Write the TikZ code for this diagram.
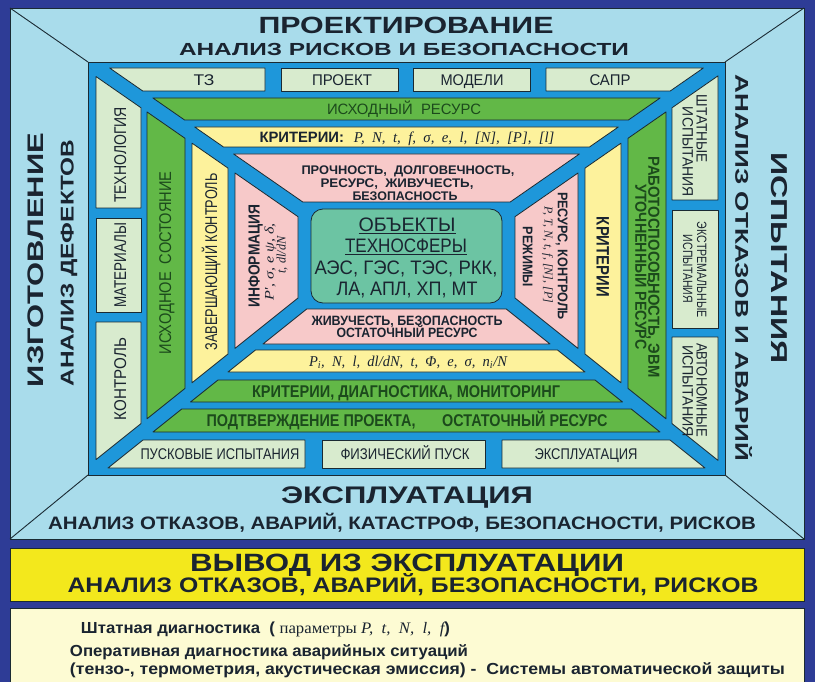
\documentclass[tikz,border=0pt]{standalone}
\usepackage{fontspec}
\setmainfont{Liberation Sans}
\newfontfamily\tms{Liberation Serif}
\usepackage{graphicx}
\usetikzlibrary{calc}

\definecolor{frame}{HTML}{2E3C96}
\definecolor{lblue}{HTML}{A9DCEB}
\definecolor{mblue}{HTML}{1E97DA}
\definecolor{pale}{HTML}{D8EBCE}
\definecolor{grn}{HTML}{62B847}
\definecolor{ylw}{HTML}{FDF29C}
\definecolor{pnk}{HTML}{F7C9C9}
\definecolor{tealbx}{HTML}{6CC4A3}
\definecolor{ybar}{HTML}{F3E81C}
\definecolor{cream}{HTML}{FDFBD3}
\definecolor{ink}{HTML}{1A2430}
\definecolor{dgreen}{HTML}{1C4A1C}
\definecolor{edge}{HTML}{1A2A33}

\newlength\fitlen
\newcommand\fitw[2]{\settowidth\fitlen{#2}\pgfmathsetmacro\fitsx{#1/\fitlen}\scalebox{\fitsx}[1]{#2}}
% name, x, y, rotation, font size, width, style, text
\newcommand\Lbl[8]{\node[lbl,#7,rotate=#4,anchor=base] (#1) at ({#2+0.358*#5*sin(#4)},{#3+0.358*#5*cos(#4)}) {\fontsize{#5}{#5}\selectfont\fitw{#6}{#8}};}

\def\kA{0.69369}\def\kB{0.8}
\newcommand\xTLu[1]{(88+(#1-53)/\kA)}
\newcommand\xTRu[1]{(725-(#1-53)/\kA)}
\newcommand\yTLl[1]{(71+\kA*(#1-88))}
\newcommand\yTRl[1]{(71+\kA*(725-#1))}
\newcommand\yBLu[1]{(466-\kB*(#1-88))}
\newcommand\yBRu[1]{(466-\kB*(725-#1))}
\newcommand\xBLl[1]{(88+(484-#1)/\kB)}
\newcommand\xBRl[1]{(725-(484-#1)/\kB)}
\newcommand\TopPc[3]{\draw[pc,#1] ({\xTLu{#2}},#2) -- ({\xTRu{#2}},#2) -- ({\xTRu{#3}},#3) -- ({\xTLu{#3}},#3) -- cycle;}
\newcommand\BotPc[3]{\draw[pc,#1] ({\xBLl{#2}},#2) -- ({\xBRl{#2}},#2) -- ({\xBRl{#3}},#3) -- ({\xBLl{#3}},#3) -- cycle;}
\newcommand\LeftPc[3]{\draw[pc,#1] (#2,{\yTLl{#2}}) -- (#3,{\yTLl{#3}}) -- (#3,{\yBLu{#3}}) -- (#2,{\yBLu{#2}}) -- cycle;}
\newcommand\RightPc[3]{\draw[pc,#1] (#2,{\yTRl{#2}}) -- (#3,{\yTRl{#3}}) -- (#3,{\yBRu{#3}}) -- (#2,{\yBRu{#2}}) -- cycle;}

\begin{document}
\begin{tikzpicture}[x=1pt,y=-1pt,
  lbl/.style={inner sep=0pt,outer sep=0pt,text=ink},
  pc/.style={draw=edge,line width=0.8pt,line join=round}]
\useasboundingbox (0,0) rectangle (815,682);
\fill[frame] (0,0) rectangle (815,682);
\draw[fill=lblue,draw=edge,line width=0.8pt] (10,8) rectangle (804,539);
\draw[edge,line width=0.9pt] (10,8) -- (88,62) (804,8) -- (725,62) (10,539) -- (88,475) (804,539) -- (725,475);
\draw[fill=mblue,draw=edge,line width=0.9pt] (88,62) rectangle (725,475);

% pale ring
\draw[pc,fill=pale] ({\xTLu{68}},68) -- (265,68) -- (265,91) -- ({\xTLu{91}},91) -- cycle;
\draw[pc,fill=pale] (281,68) rectangle (398,91);
\draw[pc,fill=pale] (413,68) rectangle (530,91);
\draw[pc,fill=pale] (546,68) -- ({\xTRu{68}},68) -- ({\xTRu{91}},91) -- (546,91) -- cycle;
\draw[pc,fill=pale] (96,{\yTLl{96}}) -- (141,{\yTLl{141}}) -- (141,208) -- (96,208) -- cycle;
\draw[pc,fill=pale] (96,218) rectangle (141,312);
\draw[pc,fill=pale] (96,322) -- (141,322) -- (141,{\yBLu{141}}) -- (96,{\yBLu{96}}) -- cycle;
\draw[pc,fill=pale] (672,{\yTRl{672}}) -- (718,{\yTRl{718}}) -- (718,200) -- (672,200) -- cycle;
\draw[pc,fill=pale] (672,210) rectangle (718,328);
\draw[pc,fill=pale] (672,337) -- (718,337) -- (718,{\yBRu{718}}) -- (672,{\yBRu{672}}) -- cycle;
\draw[pc,fill=pale] ({\xBLl{440}},440) -- (305,440) -- (305,468) -- ({\xBLl{468}},468) -- cycle;
\draw[pc,fill=pale] (322,440) rectangle (485,468);
\draw[pc,fill=pale] (502,440) -- ({\xBRl{440}},440) -- ({\xBRl{468}},468) -- (502,468) -- cycle;
% green ring
\TopPc{fill=grn}{98}{120}
\LeftPc{fill=grn}{147}{185}
\RightPc{fill=grn}{628}{666}
\BotPc{fill=grn}{409}{432}
\BotPc{fill=grn}{380}{402}
% yellow ring
\TopPc{fill=ylw}{127}{147}
\LeftPc{fill=ylw}{192}{228}
\RightPc{fill=ylw}{585}{621}
\BotPc{fill=ylw}{350}{372}
% pink ring
\TopPc{fill=pnk}{154}{202}
\LeftPc{fill=pnk}{235}{298}
\RightPc{fill=pnk}{515}{578}
\BotPc{fill=pnk}{309}{344}
% centre
\draw[pc,fill=tealbx,rounded corners=12pt] (311,209) rectangle (502,303);

% lower bands
\draw[fill=ybar,draw=edge,line width=0.8pt] (10,548) rectangle (804,601);
\draw[fill=cream,draw=edge,line width=0.8pt] (10,608) rectangle (804,695);

% outer titles
\Lbl{t1}{406}{25}{0}{23.5}{295}{font=\bfseries}{ПРОЕКТИРОВАНИЕ}
\Lbl{t2}{404}{49}{0}{17.5}{450}{font=\bfseries}{АНАЛИЗ РИСКОВ И БЕЗОПАСНОСТИ}
\Lbl{t3}{35}{260}{90}{22.5}{254}{font=\bfseries}{ИЗГОТОВЛЕНИЕ}
\Lbl{t4}{67}{263}{90}{18.5}{247}{font=\bfseries}{АНАЛИЗ ДЕФЕКТОВ}
\Lbl{t5}{780}{258}{-90}{23}{211}{font=\bfseries}{ИСПЫТАНИЯ}
\Lbl{t6}{742}{268}{-90}{18.5}{387}{font=\bfseries}{АНАЛИЗ ОТКАЗОВ И АВАРИЙ}
\Lbl{t7}{407}{495}{0}{24}{252}{font=\bfseries}{ЭКСПЛУАТАЦИЯ}
\Lbl{t8}{402}{523}{0}{18}{708}{font=\bfseries}{АНАЛИЗ ОТКАЗОВ, АВАРИЙ, КАТАСТРОФ, БЕЗОПАСНОСТИ, РИСКОВ}
\Lbl{t9}{407}{563}{0}{25}{434}{font=\bfseries}{ВЫВОД ИЗ ЭКСПЛУАТАЦИИ}
\Lbl{t10}{413}{585}{0}{21}{691}{font=\bfseries}{АНАЛИЗ ОТКАЗОВ, АВАРИЙ, БЕЗОПАСНОСТИ, РИСКОВ}

% cream box
\node[lbl,anchor=base west] (c1) at (81,633) {\fontsize{16}{16}\selectfont\fitw{369}{\bfseries Штатная диагностика \ ( {\tms\mdseries параметры \itshape P, \ t, \ N, \ l, \ f})}};
\node[lbl,anchor=base west] (c2) at (70,656) {\fontsize{16}{16}\selectfont\fitw{398}{\bfseries Оперативная диагностика аварийных ситуаций}};
\node[lbl,anchor=base west] (c3) at (70,674) {\fontsize{16}{16}\selectfont\fitw{715}{\bfseries (тензо-, термометрия, акустическая эмиссия) - \ Системы автоматической защиты}};

% pale ring labels
\Lbl{tz}{204}{80}{0}{15.5}{21}{}{ТЗ}
\Lbl{proj}{342}{80}{0}{15.5}{60}{}{ПРОЕКТ}
\Lbl{mod}{472}{80}{0}{15.5}{63}{}{МОДЕЛИ}
\Lbl{sapr}{610}{80}{0}{15.5}{41}{}{САПР}
\Lbl{tech}{120}{155}{90}{17}{96}{}{ТЕХНОЛОГИЯ}
\Lbl{mat}{120}{265}{90}{17}{85}{}{МАТЕРИАЛЫ}
\Lbl{kon}{120}{379}{90}{17}{82}{}{КОНТРОЛЬ}
\Lbl{sh1}{702}{129}{-90}{15}{68}{}{ШТАТНЫЕ}
\Lbl{sh2}{688}{152}{-90}{15}{90}{}{ИСПЫТАНИЯ}
\Lbl{ex1}{702}{270}{-90}{13.5}{96}{}{ЭКСТРЕМАЛЬНЫЕ}
\Lbl{ex2}{688}{269}{-90}{13.5}{68}{}{ИСПЫТАНИЯ}
\Lbl{av1}{702}{390}{-90}{15}{94}{}{АВТОНОМНЫЕ}
\Lbl{av2}{688}{391}{-90}{15}{92}{}{ИСПЫТАНИЯ}
\Lbl{pusk}{220}{454}{0}{15.5}{159}{}{ПУСКОВЫЕ ИСПЫТАНИЯ}
\Lbl{fiz}{405}{454}{0}{15.5}{129}{}{ФИЗИЧЕСКИЙ ПУСК}
\Lbl{expl}{586}{454}{0}{15.5}{103}{}{ЭКСПЛУАТАЦИЯ}
% green ring labels
\Lbl{ires}{404}{109}{0}{15}{154}{text=dgreen}{ИСХОДНЫЙ \ РЕСУРС}
\Lbl{isost}{165}{263}{90}{17}{183}{text=dgreen}{ИСХОДНОЕ \ СОСТОЯНИЕ}
\Lbl{rab}{654}{267}{-90}{16}{221}{font=\bfseries,text=dgreen}{РАБОТОСПОСОБНОСТЬ, ЭВМ}
\Lbl{uto}{641}{267}{-90}{16}{165}{font=\bfseries,text=dgreen}{УТОЧНЕННЫЙ РЕСУРС}
\Lbl{kdm}{406}{391}{0}{17}{308}{font=\bfseries,text=dgreen}{КРИТЕРИИ, ДИАГНОСТИКА, МОНИТОРИНГ}
\Lbl{pod}{407}{420}{0}{17}{401}{font=\bfseries,text=dgreen}{ПОДТВЕРЖДЕНИЕ ПРОЕКТА, \hspace{22pt} ОСТАТОЧНЫЙ РЕСУРС}
% yellow ring labels
\Lbl{krit}{407}{137}{0}{15}{295}{}{{\bfseries КРИТЕРИИ:}\hspace{10pt}{\tms\itshape P, \ N, \ t, \ f, \ σ, \ e, \ l, \ [N], \ [P], \ [l]}}
\Lbl{zav}{211}{262}{90}{17}{177}{}{ЗАВЕРШАЮЩИЙ КОНТРОЛЬ}
\Lbl{krit2}{603}{257}{-90}{18}{80}{font=\bfseries}{КРИТЕРИИ}
\Lbl{form}{408}{361}{0}{15}{198}{font=\tms\itshape}{P\textsubscript{i}, \ N, \ l, \ dl/dN, \ t, \ Φ, \ e, \ σ, \ n\textsubscript{i}/N}
% pink ring labels
\Lbl{pr1}{408}{170}{0}{12.5}{213}{font=\bfseries}{ПРОЧНОСТЬ, \ ДОЛГОВЕЧНОСТЬ,}
\Lbl{pr2}{397}{183}{0}{12.5}{153}{font=\bfseries}{РЕСУРС, \ ЖИВУЧЕСТЬ,}
\Lbl{pr3}{405}{196}{0}{12.5}{105}{font=\bfseries}{БЕЗОПАСНОСТЬ}
\Lbl{zh1}{407}{321}{0}{13.5}{191}{font=\bfseries}{ЖИВУЧЕСТЬ, БЕЗОПАСНОСТЬ}
\Lbl{zh2}{407}{333}{0}{13.5}{141}{font=\bfseries}{ОСТАТОЧНЫЙ РЕСУРС}
\Lbl{inf}{254}{256}{90}{16}{103}{font=\bfseries}{ИНФОРМАЦИЯ}
\Lbl{if1}{269}{262}{90}{13}{78}{font=\tms\itshape}{P', σ, e ψ, δ,}
\Lbl{if2}{281}{255}{90}{13}{37}{font=\tms\itshape}{t, dl/dN}
\Lbl{rk}{563}{256}{-90}{14}{128}{font=\bfseries}{РЕСУРС, КОНТРОЛЬ}
\Lbl{rf}{549}{255}{-90}{12}{96}{font=\tms\itshape}{P, T, N, t, f, [N], [P]}
\Lbl{rr}{528}{257}{-90}{14}{60}{font=\bfseries}{РЕЖИМЫ}
% centre labels
\Lbl{o1}{407}{225}{0}{19.5}{97}{}{\underline{ОБЪЕКТЫ}}
\Lbl{o2}{406}{246}{0}{19.5}{122}{}{\underline{ТЕХНОСФЕРЫ}}
\Lbl{o3}{406}{268}{0}{19.5}{183}{}{АЭС, ГЭС, ТЭС, РКК,}
\Lbl{o4}{407}{289}{0}{19.5}{141}{}{ЛА, АПЛ, ХП, МТ}
\end{tikzpicture}
\end{document}
